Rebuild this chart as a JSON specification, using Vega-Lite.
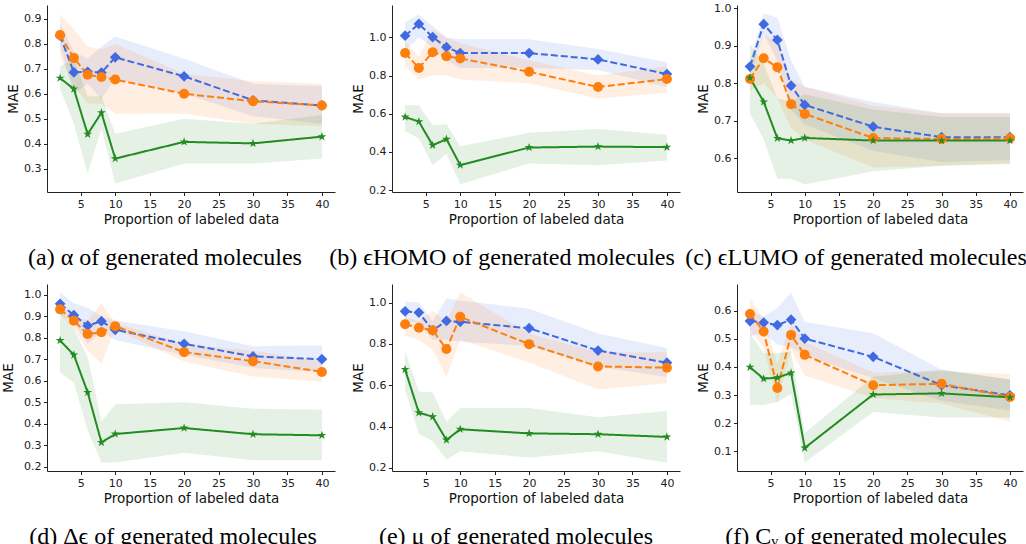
{
"$schema": "https://vega.github.io/schema/vega-lite/v6.json",
"padding": {"left": 1, "top": 2, "right": 0, "bottom": 0},
"background": "white",
"datasets": {"d": [
{"p":"a","s":"b","x":2,"m":0.833,"lo":0.79,"hi":0.88},{"p":"a","s":"b","x":4,"m":0.686,"lo":0.60,"hi":0.77},{"p":"a","s":"b","x":6,"m":0.688,"lo":0.64,"hi":0.74},{"p":"a","s":"b","x":8,"m":0.685,"lo":0.58,"hi":0.79},{"p":"a","s":"b","x":10,"m":0.746,"lo":0.66,"hi":0.83},{"p":"a","s":"b","x":20,"m":0.670,"lo":0.60,"hi":0.74},{"p":"a","s":"b","x":30,"m":0.574,"lo":0.51,"hi":0.64},{"p":"a","s":"b","x":40,"m":0.553,"lo":0.48,"hi":0.63},
{"p":"a","s":"o","x":2,"m":0.836,"lo":0.75,"hi":0.92},{"p":"a","s":"o","x":4,"m":0.743,"lo":0.63,"hi":0.86},{"p":"a","s":"o","x":6,"m":0.676,"lo":0.56,"hi":0.79},{"p":"a","s":"o","x":8,"m":0.667,"lo":0.56,"hi":0.78},{"p":"a","s":"o","x":10,"m":0.657,"lo":0.52,"hi":0.80},{"p":"a","s":"o","x":20,"m":0.600,"lo":0.52,"hi":0.68},{"p":"a","s":"o","x":30,"m":0.570,"lo":0.48,"hi":0.65},{"p":"a","s":"o","x":40,"m":0.553,"lo":0.47,"hi":0.64},
{"p":"a","s":"g","x":2,"m":0.663,"lo":0.62,"hi":0.71},{"p":"a","s":"g","x":4,"m":0.619,"lo":0.48,"hi":0.74},{"p":"a","s":"g","x":6,"m":0.438,"lo":0.28,"hi":0.59},{"p":"a","s":"g","x":8,"m":0.524,"lo":0.46,"hi":0.59},{"p":"a","s":"g","x":10,"m":0.340,"lo":0.24,"hi":0.44},{"p":"a","s":"g","x":20,"m":0.407,"lo":0.32,"hi":0.50},{"p":"a","s":"g","x":30,"m":0.401,"lo":0.32,"hi":0.48},{"p":"a","s":"g","x":40,"m":0.428,"lo":0.34,"hi":0.515},
{"p":"b","s":"b","x":2,"m":1.009,"lo":0.93,"hi":1.08},{"p":"b","s":"b","x":4,"m":1.071,"lo":1.0,"hi":1.12},{"p":"b","s":"b","x":6,"m":1.002,"lo":0.95,"hi":1.06},{"p":"b","s":"b","x":8,"m":0.949,"lo":0.88,"hi":1.0},{"p":"b","s":"b","x":10,"m":0.918,"lo":0.84,"hi":0.99},{"p":"b","s":"b","x":20,"m":0.918,"lo":0.84,"hi":0.99},{"p":"b","s":"b","x":30,"m":0.885,"lo":0.83,"hi":0.94},{"p":"b","s":"b","x":40,"m":0.808,"lo":0.74,"hi":0.87},
{"p":"b","s":"o","x":2,"m":0.918,"lo":0.85,"hi":0.98},{"p":"b","s":"o","x":4,"m":0.840,"lo":0.78,"hi":0.90},{"p":"b","s":"o","x":6,"m":0.922,"lo":0.80,"hi":1.04},{"p":"b","s":"o","x":8,"m":0.901,"lo":0.80,"hi":1.0},{"p":"b","s":"o","x":10,"m":0.890,"lo":0.78,"hi":0.97},{"p":"b","s":"o","x":20,"m":0.820,"lo":0.76,"hi":0.88},{"p":"b","s":"o","x":30,"m":0.740,"lo":0.68,"hi":0.80},{"p":"b","s":"o","x":40,"m":0.782,"lo":0.71,"hi":0.85},
{"p":"b","s":"g","x":2,"m":0.583,"lo":0.51,"hi":0.645},{"p":"b","s":"g","x":4,"m":0.559,"lo":0.47,"hi":0.645},{"p":"b","s":"g","x":6,"m":0.435,"lo":0.33,"hi":0.54},{"p":"b","s":"g","x":8,"m":0.467,"lo":0.39,"hi":0.545},{"p":"b","s":"g","x":10,"m":0.331,"lo":0.23,"hi":0.43},{"p":"b","s":"g","x":20,"m":0.423,"lo":0.34,"hi":0.50},{"p":"b","s":"g","x":30,"m":0.428,"lo":0.33,"hi":0.52},{"p":"b","s":"g","x":40,"m":0.425,"lo":0.355,"hi":0.49},
{"p":"c","s":"b","x":2,"m":0.844,"lo":0.82,"hi":0.86},{"p":"c","s":"b","x":4,"m":0.957,"lo":0.93,"hi":0.985},{"p":"c","s":"b","x":6,"m":0.915,"lo":0.86,"hi":0.975},{"p":"c","s":"b","x":8,"m":0.793,"lo":0.73,"hi":0.86},{"p":"c","s":"b","x":10,"m":0.742,"lo":0.69,"hi":0.79},{"p":"c","s":"b","x":20,"m":0.684,"lo":0.62,"hi":0.75},{"p":"c","s":"b","x":30,"m":0.656,"lo":0.59,"hi":0.72},{"p":"c","s":"b","x":40,"m":0.656,"lo":0.595,"hi":0.72},
{"p":"c","s":"o","x":2,"m":0.811,"lo":0.78,"hi":0.85},{"p":"c","s":"o","x":4,"m":0.866,"lo":0.80,"hi":0.93},{"p":"c","s":"o","x":6,"m":0.842,"lo":0.76,"hi":0.91},{"p":"c","s":"o","x":8,"m":0.744,"lo":0.68,"hi":0.81},{"p":"c","s":"o","x":10,"m":0.718,"lo":0.65,"hi":0.79},{"p":"c","s":"o","x":20,"m":0.654,"lo":0.575,"hi":0.74},{"p":"c","s":"o","x":30,"m":0.651,"lo":0.58,"hi":0.72},{"p":"c","s":"o","x":40,"m":0.653,"lo":0.585,"hi":0.72},
{"p":"c","s":"g","x":2,"m":0.814,"lo":0.72,"hi":0.905},{"p":"c","s":"g","x":4,"m":0.750,"lo":0.65,"hi":0.85},{"p":"c","s":"g","x":6,"m":0.653,"lo":0.545,"hi":0.76},{"p":"c","s":"g","x":8,"m":0.647,"lo":0.545,"hi":0.75},{"p":"c","s":"g","x":10,"m":0.654,"lo":0.53,"hi":0.77},{"p":"c","s":"g","x":20,"m":0.647,"lo":0.565,"hi":0.73},{"p":"c","s":"g","x":30,"m":0.647,"lo":0.58,"hi":0.71},{"p":"c","s":"g","x":40,"m":0.647,"lo":0.585,"hi":0.71},
{"p":"d","s":"b","x":2,"m":0.958,"lo":0.91,"hi":1.01},{"p":"d","s":"b","x":4,"m":0.905,"lo":0.87,"hi":0.96},{"p":"d","s":"b","x":6,"m":0.856,"lo":0.77,"hi":0.94},{"p":"d","s":"b","x":8,"m":0.877,"lo":0.83,"hi":0.90},{"p":"d","s":"b","x":10,"m":0.837,"lo":0.79,"hi":0.88},{"p":"d","s":"b","x":20,"m":0.772,"lo":0.72,"hi":0.83},{"p":"d","s":"b","x":30,"m":0.713,"lo":0.66,"hi":0.76},{"p":"d","s":"b","x":40,"m":0.700,"lo":0.64,"hi":0.765},
{"p":"d","s":"o","x":2,"m":0.932,"lo":0.91,"hi":0.95},{"p":"d","s":"o","x":4,"m":0.879,"lo":0.84,"hi":0.90},{"p":"d","s":"o","x":6,"m":0.817,"lo":0.74,"hi":0.88},{"p":"d","s":"o","x":8,"m":0.826,"lo":0.68,"hi":0.96},{"p":"d","s":"o","x":10,"m":0.854,"lo":0.84,"hi":0.87},{"p":"d","s":"o","x":20,"m":0.733,"lo":0.69,"hi":0.77},{"p":"d","s":"o","x":30,"m":0.691,"lo":0.62,"hi":0.74},{"p":"d","s":"o","x":40,"m":0.641,"lo":0.595,"hi":0.69},
{"p":"d","s":"g","x":2,"m":0.787,"lo":0.64,"hi":0.93},{"p":"d","s":"g","x":4,"m":0.720,"lo":0.59,"hi":0.84},{"p":"d","s":"g","x":6,"m":0.546,"lo":0.37,"hi":0.71},{"p":"d","s":"g","x":8,"m":0.313,"lo":0.22,"hi":0.41},{"p":"d","s":"g","x":10,"m":0.352,"lo":0.22,"hi":0.49},{"p":"d","s":"g","x":20,"m":0.380,"lo":0.265,"hi":0.50},{"p":"d","s":"g","x":30,"m":0.351,"lo":0.23,"hi":0.47},{"p":"d","s":"g","x":40,"m":0.346,"lo":0.23,"hi":0.465},
{"p":"e","s":"b","x":2,"m":0.958,"lo":0.91,"hi":1.005},{"p":"e","s":"b","x":4,"m":0.952,"lo":0.90,"hi":1.0},{"p":"e","s":"b","x":6,"m":0.866,"lo":0.82,"hi":0.91},{"p":"e","s":"b","x":8,"m":0.911,"lo":0.82,"hi":1.02},{"p":"e","s":"b","x":10,"m":0.907,"lo":0.81,"hi":1.01},{"p":"e","s":"b","x":20,"m":0.876,"lo":0.79,"hi":0.97},{"p":"e","s":"b","x":30,"m":0.768,"lo":0.69,"hi":0.85},{"p":"e","s":"b","x":40,"m":0.709,"lo":0.64,"hi":0.78},
{"p":"e","s":"o","x":2,"m":0.895,"lo":0.84,"hi":0.93},{"p":"e","s":"o","x":4,"m":0.878,"lo":0.82,"hi":0.91},{"p":"e","s":"o","x":6,"m":0.866,"lo":0.77,"hi":0.96},{"p":"e","s":"o","x":8,"m":0.775,"lo":0.64,"hi":0.91},{"p":"e","s":"o","x":10,"m":0.931,"lo":0.82,"hi":1.05},{"p":"e","s":"o","x":20,"m":0.799,"lo":0.71,"hi":0.85},{"p":"e","s":"o","x":30,"m":0.691,"lo":0.58,"hi":0.76},{"p":"e","s":"o","x":40,"m":0.685,"lo":0.61,"hi":0.76},
{"p":"e","s":"g","x":2,"m":0.676,"lo":0.58,"hi":0.765},{"p":"e","s":"g","x":4,"m":0.467,"lo":0.365,"hi":0.57},{"p":"e","s":"g","x":6,"m":0.448,"lo":0.33,"hi":0.565},{"p":"e","s":"g","x":8,"m":0.335,"lo":0.24,"hi":0.425},{"p":"e","s":"g","x":10,"m":0.387,"lo":0.28,"hi":0.49},{"p":"e","s":"g","x":20,"m":0.367,"lo":0.25,"hi":0.49},{"p":"e","s":"g","x":30,"m":0.363,"lo":0.28,"hi":0.445},{"p":"e","s":"g","x":40,"m":0.350,"lo":0.225,"hi":0.475},
{"p":"f","s":"b","x":2,"m":0.563,"lo":0.51,"hi":0.60},{"p":"f","s":"b","x":4,"m":0.558,"lo":0.52,"hi":0.58},{"p":"f","s":"b","x":6,"m":0.549,"lo":0.48,"hi":0.61},{"p":"f","s":"b","x":8,"m":0.568,"lo":0.47,"hi":0.665},{"p":"f","s":"b","x":10,"m":0.501,"lo":0.44,"hi":0.56},{"p":"f","s":"b","x":20,"m":0.436,"lo":0.36,"hi":0.52},{"p":"f","s":"b","x":30,"m":0.335,"lo":0.28,"hi":0.39},{"p":"f","s":"b","x":40,"m":0.299,"lo":0.245,"hi":0.355},
{"p":"f","s":"o","x":2,"m":0.588,"lo":0.53,"hi":0.645},{"p":"f","s":"o","x":4,"m":0.526,"lo":0.47,"hi":0.57},{"p":"f","s":"o","x":6,"m":0.325,"lo":0.27,"hi":0.41},{"p":"f","s":"o","x":8,"m":0.514,"lo":0.46,"hi":0.56},{"p":"f","s":"o","x":10,"m":0.443,"lo":0.37,"hi":0.49},{"p":"f","s":"o","x":20,"m":0.335,"lo":0.29,"hi":0.38},{"p":"f","s":"o","x":30,"m":0.340,"lo":0.27,"hi":0.385},{"p":"f","s":"o","x":40,"m":0.293,"lo":0.205,"hi":0.375},
{"p":"f","s":"g","x":2,"m":0.399,"lo":0.265,"hi":0.52},{"p":"f","s":"g","x":4,"m":0.358,"lo":0.265,"hi":0.45},{"p":"f","s":"g","x":6,"m":0.362,"lo":0.275,"hi":0.45},{"p":"f","s":"g","x":8,"m":0.379,"lo":0.305,"hi":0.455},{"p":"f","s":"g","x":10,"m":0.112,"lo":0.06,"hi":0.165},{"p":"f","s":"g","x":20,"m":0.302,"lo":0.24,"hi":0.365},{"p":"f","s":"g","x":30,"m":0.306,"lo":0.22,"hi":0.39},{"p":"f","s":"g","x":40,"m":0.292,"lo":0.22,"hi":0.355}
]},
"data": {"name": "d"},
"spacing": 14,
"vconcat": [
{"spacing": 57, "bounds": "flush", "hconcat": [
{"width": 288, "height": 187, "transform": [{"filter": "datum.p === 'a'"}], "title": {"text": "(a) α of generated molecules", "dx": -26},
 "encoding": {"x": {"field": "x", "type": "quantitative", "title": "Proportion of labeled data", "scale": {"domain": [0.1, 41.9], "nice": false, "zero": false}, "axis": {"values": [5,10,15,20,25,30,35,40], "tickCount": 20}},
  "color": {"field": "s", "type": "nominal", "legend": null, "scale": {"domain": ["b","o","g"], "range": ["#4169e1","#ff7f0e","#228b22"]}}},
 "layer": [
  {"mark": {"type": "area", "opacity": 0.12}, "encoding": {"y": {"field": "lo", "type": "quantitative", "title": "MAE", "scale": {"domain": [0.206, 0.956], "nice": false, "zero": false}, "axis": {"values": [0.3,0.4,0.5,0.6,0.7,0.8,0.9], "tickCount": 20, "format": ".1f"}}, "y2": {"field": "hi"}}},
  {"mark": {"type": "line", "strokeWidth": 2}, "encoding": {"y": {"field": "m", "type": "quantitative", "title": "MAE", "scale": {"domain": [0.206, 0.956], "nice": false, "zero": false}}, "strokeDash": {"field": "s", "type": "nominal", "legend": null, "scale": {"domain": ["b","o","g"], "range": [[7,3],[7,3],[1,0]]}}}},
  {"mark": {"type": "point", "filled": true, "opacity": 1}, "encoding": {"y": {"field": "m", "type": "quantitative", "title": "MAE", "scale": {"domain": [0.206, 0.956], "nice": false, "zero": false}}, "size": {"field": "s", "type": "nominal", "legend": null, "scale": {"domain": ["b","o","g"], "range": [115, 85, 200]}}, "shape": {"field": "s", "type": "nominal", "legend": null, "scale": {"domain": ["b","o","g"], "range": ["diamond","circle","M0,-1L0.2245,-0.309L0.9511,-0.309L0.3633,0.118L0.5878,0.809L0,0.382L-0.5878,0.809L-0.3633,0.118L-0.9511,-0.309L-0.2245,-0.309Z"]}}}}
 ]},
{"width": 288, "height": 187, "transform": [{"filter": "datum.p === 'b'"}], "title": {"text": "(b) ϵHOMO of generated molecules", "dx": -34},
 "encoding": {"x": {"field": "x", "type": "quantitative", "title": "Proportion of labeled data", "scale": {"domain": [0.1, 41.9], "nice": false, "zero": false}, "axis": {"values": [5,10,15,20,25,30,35,40], "tickCount": 20}},
  "color": {"field": "s", "type": "nominal", "legend": null, "scale": {"domain": ["b","o","g"], "range": ["#4169e1","#ff7f0e","#228b22"]}}},
 "layer": [
  {"mark": {"type": "area", "opacity": 0.12}, "encoding": {"y": {"field": "lo", "type": "quantitative", "title": "MAE", "scale": {"domain": [0.19, 1.17], "nice": false, "zero": false}, "axis": {"values": [0.2,0.4,0.6,0.8,1.0], "tickCount": 20, "format": ".1f"}}, "y2": {"field": "hi"}}},
  {"mark": {"type": "line", "strokeWidth": 2}, "encoding": {"y": {"field": "m", "type": "quantitative", "title": "MAE", "scale": {"domain": [0.19, 1.17], "nice": false, "zero": false}}, "strokeDash": {"field": "s", "type": "nominal", "legend": null, "scale": {"domain": ["b","o","g"], "range": [[7,3],[7,3],[1,0]]}}}},
  {"mark": {"type": "point", "filled": true, "opacity": 1}, "encoding": {"y": {"field": "m", "type": "quantitative", "title": "MAE", "scale": {"domain": [0.19, 1.17], "nice": false, "zero": false}}, "size": {"field": "s", "type": "nominal", "legend": null, "scale": {"domain": ["b","o","g"], "range": [115, 85, 200]}}, "shape": {"field": "s", "type": "nominal", "legend": null, "scale": {"domain": ["b","o","g"], "range": ["diamond","circle","M0,-1L0.2245,-0.309L0.9511,-0.309L0.3633,0.118L0.5878,0.809L0,0.382L-0.5878,0.809L-0.3633,0.118L-0.9511,-0.309L-0.2245,-0.309Z"]}}}}
 ]},
{"width": 286, "height": 187, "transform": [{"filter": "datum.p === 'c'"}], "title": {"text": "(c) ϵLUMO of generated molecules", "dx": -24},
 "encoding": {"x": {"field": "x", "type": "quantitative", "title": "Proportion of labeled data", "scale": {"domain": [0.1, 41.9], "nice": false, "zero": false}, "axis": {"values": [5,10,15,20,25,30,35,40], "tickCount": 20}},
  "color": {"field": "s", "type": "nominal", "legend": null, "scale": {"domain": ["b","o","g"], "range": ["#4169e1","#ff7f0e","#228b22"]}}},
 "layer": [
  {"mark": {"type": "area", "opacity": 0.12}, "encoding": {"y": {"field": "lo", "type": "quantitative", "title": "MAE", "scale": {"domain": [0.51, 1.008], "nice": false, "zero": false}, "axis": {"values": [0.6,0.7,0.8,0.9,1.0], "tickCount": 20, "format": ".1f"}}, "y2": {"field": "hi"}}},
  {"mark": {"type": "line", "strokeWidth": 2}, "encoding": {"y": {"field": "m", "type": "quantitative", "title": "MAE", "scale": {"domain": [0.51, 1.008], "nice": false, "zero": false}}, "strokeDash": {"field": "s", "type": "nominal", "legend": null, "scale": {"domain": ["b","o","g"], "range": [[7,3],[7,3],[1,0]]}}}},
  {"mark": {"type": "point", "filled": true, "opacity": 1}, "encoding": {"y": {"field": "m", "type": "quantitative", "title": "MAE", "scale": {"domain": [0.51, 1.008], "nice": false, "zero": false}}, "size": {"field": "s", "type": "nominal", "legend": null, "scale": {"domain": ["b","o","g"], "range": [115, 85, 200]}}, "shape": {"field": "s", "type": "nominal", "legend": null, "scale": {"domain": ["b","o","g"], "range": ["diamond","circle","M0,-1L0.2245,-0.309L0.9511,-0.309L0.3633,0.118L0.5878,0.809L0,0.382L-0.5878,0.809L-0.3633,0.118L-0.9511,-0.309L-0.2245,-0.309Z"]}}}}
 ]}
]},
{"spacing": 57, "bounds": "flush", "hconcat": [
{"width": 288, "height": 187, "transform": [{"filter": "datum.p === 'd'"}], "title": {"text": "(d) Δϵ of generated molecules", "dx": -18},
 "encoding": {"x": {"field": "x", "type": "quantitative", "title": "Proportion of labeled data", "scale": {"domain": [0.1, 41.9], "nice": false, "zero": false}, "axis": {"values": [5,10,15,20,25,30,35,40], "tickCount": 20}},
  "color": {"field": "s", "type": "nominal", "legend": null, "scale": {"domain": ["b","o","g"], "range": ["#4169e1","#ff7f0e","#228b22"]}}},
 "layer": [
  {"mark": {"type": "area", "opacity": 0.12}, "encoding": {"y": {"field": "lo", "type": "quantitative", "title": "MAE", "scale": {"domain": [0.18, 1.05], "nice": false, "zero": false}, "axis": {"values": [0.2,0.3,0.4,0.5,0.6,0.7,0.8,0.9,1.0], "tickCount": 20, "format": ".1f", "titlePadding": 8}}, "y2": {"field": "hi"}}},
  {"mark": {"type": "line", "strokeWidth": 2}, "encoding": {"y": {"field": "m", "type": "quantitative", "title": "MAE", "scale": {"domain": [0.18, 1.05], "nice": false, "zero": false}}, "strokeDash": {"field": "s", "type": "nominal", "legend": null, "scale": {"domain": ["b","o","g"], "range": [[7,3],[7,3],[1,0]]}}}},
  {"mark": {"type": "point", "filled": true, "opacity": 1}, "encoding": {"y": {"field": "m", "type": "quantitative", "title": "MAE", "scale": {"domain": [0.18, 1.05], "nice": false, "zero": false}}, "size": {"field": "s", "type": "nominal", "legend": null, "scale": {"domain": ["b","o","g"], "range": [115, 85, 200]}}, "shape": {"field": "s", "type": "nominal", "legend": null, "scale": {"domain": ["b","o","g"], "range": ["diamond","circle","M0,-1L0.2245,-0.309L0.9511,-0.309L0.3633,0.118L0.5878,0.809L0,0.382L-0.5878,0.809L-0.3633,0.118L-0.9511,-0.309L-0.2245,-0.309Z"]}}}}
 ]},
{"width": 288, "height": 187, "transform": [{"filter": "datum.p === 'e'"}], "title": {"text": "(e) μ of generated molecules", "dx": -20},
 "encoding": {"x": {"field": "x", "type": "quantitative", "title": "Proportion of labeled data", "scale": {"domain": [0.1, 41.9], "nice": false, "zero": false}, "axis": {"values": [5,10,15,20,25,30,35,40], "tickCount": 20}},
  "color": {"field": "s", "type": "nominal", "legend": null, "scale": {"domain": ["b","o","g"], "range": ["#4169e1","#ff7f0e","#228b22"]}}},
 "layer": [
  {"mark": {"type": "area", "opacity": 0.12}, "encoding": {"y": {"field": "lo", "type": "quantitative", "title": "MAE", "scale": {"domain": [0.185, 1.09], "nice": false, "zero": false}, "axis": {"values": [0.2,0.4,0.6,0.8,1.0], "tickCount": 20, "format": ".1f"}}, "y2": {"field": "hi"}}},
  {"mark": {"type": "line", "strokeWidth": 2}, "encoding": {"y": {"field": "m", "type": "quantitative", "title": "MAE", "scale": {"domain": [0.185, 1.09], "nice": false, "zero": false}}, "strokeDash": {"field": "s", "type": "nominal", "legend": null, "scale": {"domain": ["b","o","g"], "range": [[7,3],[7,3],[1,0]]}}}},
  {"mark": {"type": "point", "filled": true, "opacity": 1}, "encoding": {"y": {"field": "m", "type": "quantitative", "title": "MAE", "scale": {"domain": [0.185, 1.09], "nice": false, "zero": false}}, "size": {"field": "s", "type": "nominal", "legend": null, "scale": {"domain": ["b","o","g"], "range": [115, 85, 200]}}, "shape": {"field": "s", "type": "nominal", "legend": null, "scale": {"domain": ["b","o","g"], "range": ["diamond","circle","M0,-1L0.2245,-0.309L0.9511,-0.309L0.3633,0.118L0.5878,0.809L0,0.382L-0.5878,0.809L-0.3633,0.118L-0.9511,-0.309L-0.2245,-0.309Z"]}}}}
 ]},
{"width": 286, "height": 187, "transform": [{"filter": "datum.p === 'f'"}], "title": {"text": "(f) Cᵥ of generated molecules", "dx": -14},
 "encoding": {"x": {"field": "x", "type": "quantitative", "title": "Proportion of labeled data", "scale": {"domain": [0.1, 41.9], "nice": false, "zero": false}, "axis": {"values": [5,10,15,20,25,30,35,40], "tickCount": 20}},
  "color": {"field": "s", "type": "nominal", "legend": null, "scale": {"domain": ["b","o","g"], "range": ["#4169e1","#ff7f0e","#228b22"]}}},
 "layer": [
  {"mark": {"type": "area", "opacity": 0.12}, "encoding": {"y": {"field": "lo", "type": "quantitative", "title": "MAE", "scale": {"domain": [0.03, 0.695], "nice": false, "zero": false}, "axis": {"values": [0.1,0.2,0.3,0.4,0.5,0.6], "tickCount": 20, "format": ".1f"}}, "y2": {"field": "hi"}}},
  {"mark": {"type": "line", "strokeWidth": 2}, "encoding": {"y": {"field": "m", "type": "quantitative", "title": "MAE", "scale": {"domain": [0.03, 0.695], "nice": false, "zero": false}}, "strokeDash": {"field": "s", "type": "nominal", "legend": null, "scale": {"domain": ["b","o","g"], "range": [[7,3],[7,3],[1,0]]}}}},
  {"mark": {"type": "point", "filled": true, "opacity": 1}, "encoding": {"y": {"field": "m", "type": "quantitative", "title": "MAE", "scale": {"domain": [0.03, 0.695], "nice": false, "zero": false}}, "size": {"field": "s", "type": "nominal", "legend": null, "scale": {"domain": ["b","o","g"], "range": [115, 85, 200]}}, "shape": {"field": "s", "type": "nominal", "legend": null, "scale": {"domain": ["b","o","g"], "range": ["diamond","circle","M0,-1L0.2245,-0.309L0.9511,-0.309L0.3633,0.118L0.5878,0.809L0,0.382L-0.5878,0.809L-0.3633,0.118L-0.9511,-0.309L-0.2245,-0.309Z"]}}}}
 ]}
]}
],
"config": {
 "view": {"stroke": null},
 "axis": {"grid": false, "labelOverlap": false, "domainColor": "#222", "tickColor": "#222", "labelColor": "#222", "labelFont": "DejaVu Sans", "labelFontSize": 11, "titleFont": "DejaVu Sans", "titleFontSize": 13.5, "titleFontWeight": "normal", "titleColor": "#111", "tickSize": 3.5, "labelPadding": 2.5, "titlePadding": 3},
 "axisY": {"titlePadding": 3},
 "title": {"font": "Liberation Serif", "fontSize": 24, "fontWeight": "normal", "color": "#000", "orient": "bottom", "anchor": "middle", "offset": 20}
}
}
